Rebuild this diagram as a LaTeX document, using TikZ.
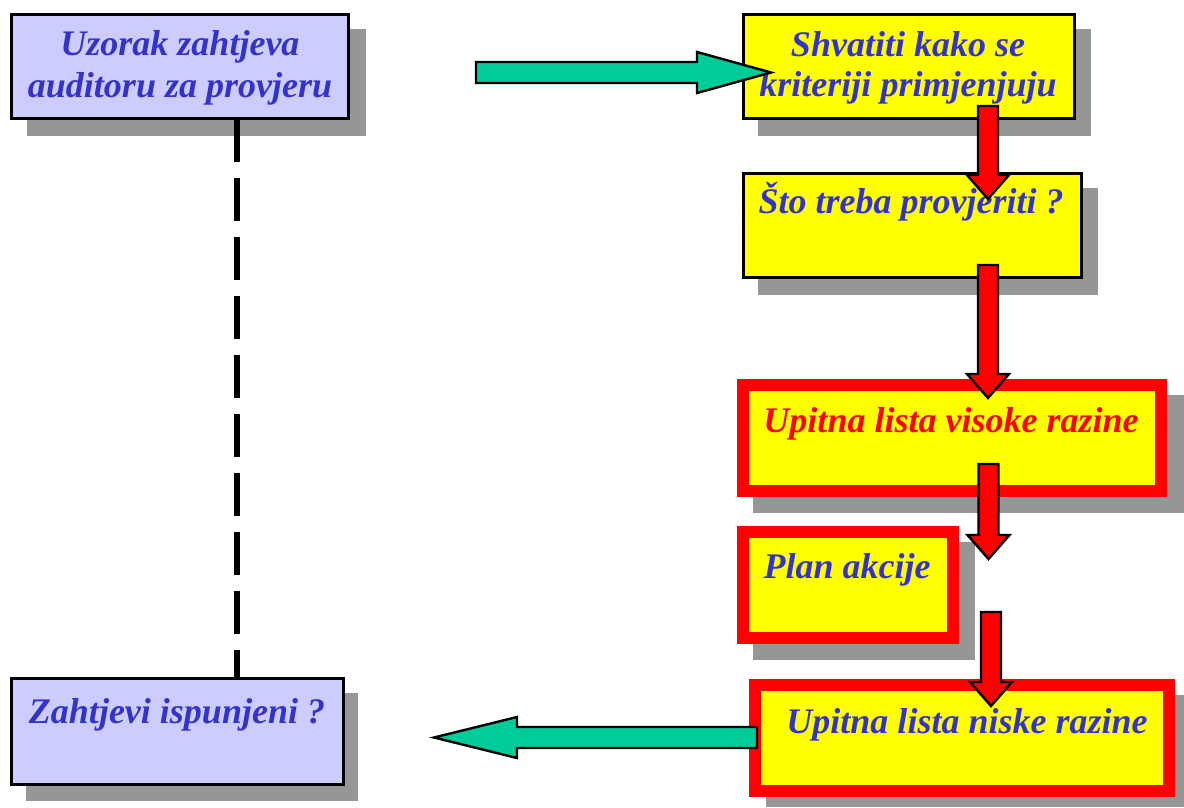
\documentclass[tikz,border=0pt]{standalone}
\usepackage{fontspec}
\setmainfont{Liberation Serif}
\usetikzlibrary{calc}
\definecolor{txtblue}{HTML}{3333CC}
\definecolor{lav}{HTML}{CCCCFF}
\definecolor{yel}{HTML}{FFFF00}
\definecolor{redc}{HTML}{FF0000}
\definecolor{grn}{HTML}{00CC99}
\definecolor{shd}{HTML}{969696}
\tikzset{
  plainbox/.style={draw=black, line width=2.6pt, anchor=north west, inner sep=0pt, outer sep=0pt},
  redbox/.style={draw=redc, fill=yel, line width=12pt, anchor=north west, inner sep=0pt, outer sep=0pt},
  shadow/.style={fill=shd, draw=none},
  lbl/.style={font=\fontsize{36}{42}\selectfont\bfseries\itshape, text=txtblue, anchor=base, inner sep=0pt, align=center},
  redarr/.style={draw=black, fill=redc, line width=2.4pt, line join=miter},
  greenarr/.style={draw=black, fill=grn, line width=2.4pt, line join=miter},
  dashline/.style={draw=black, line width=5.5pt, dash pattern=on 43pt off 16pt}
}
\newcommand\vblock[2]{\draw[redarr] let \p1=(#1), \p2=(#2) in
  (\x1-10pt,\y1) -- (\x1+10pt,\y1) -- (\x1+10pt,\y2+24pt) -- (\x1+21pt,\y2+24pt) --
  (\x1,\y2) -- (\x1-21pt,\y2+24pt) -- (\x1-10pt,\y2+24pt) -- cycle;}
\newcommand\hblock[3]{\draw[greenarr] let \p1=(#1), \p2=(#2), \n1={#3} in
  (\x1,\y1+10.5pt) -- ({\x2-\n1},\y1+10.5pt) -- ({\x2-\n1},\y1+20.5pt) -- (\x2,\y1) --
  ({\x2-\n1},\y1-20.5pt) -- ({\x2-\n1},\y1-10.5pt) -- (\x1,\y1-10.5pt) -- cycle;}
\begin{document}
\begin{tikzpicture}[x=1pt,y=-1pt]
\useasboundingbox (0,0) rectangle (1184,807);
% shadows
\fill[shadow] (27,29) rectangle (366,136);
\fill[shadow] (758,29) rectangle (1091,136);
\fill[shadow] (758,188) rectangle (1098,295);
\fill[shadow] (753,395) rectangle (1184,513);
\fill[shadow] (753,542) rectangle (975,660);
\fill[shadow] (766,695) rectangle (1184,807);
\fill[shadow] (26,693) rectangle (358,801);
% boxes
\node[plainbox, fill=lav, minimum width=337pt, minimum height=104pt] (A) at (11.5,14.5) {};
\node[plainbox, fill=yel, minimum width=331pt, minimum height=104pt] (B) at (743.5,14.5) {};
\node[plainbox, fill=yel, minimum width=338pt, minimum height=104pt] (C) at (743.5,173.5) {};
\node[redbox, minimum width=418pt, minimum height=106pt] (D) at (743,385) {};
\node[redbox, minimum width=210pt, minimum height=106pt] (E) at (743,532) {};
\node[redbox, minimum width=414pt, minimum height=106pt] (F) at (755,685) {};
\node[plainbox, fill=lav, minimum width=332pt, minimum height=106pt] (G) at (11.5,678.5) {};
% labels
\node[lbl] (At1) at (180,55) {Uzorak zahtjeva};
\node[lbl] (At2) at (180,97) {auditoru za provjeru};
\node[lbl] (Bt1) at (908,56) {Shvatiti kako se};
\node[lbl] (Bt2) at (908,96) {kriteriji primjenjuju};
\node[lbl] (Ct) at (911,213) {Što treba provjeriti ?};
\node[lbl, text=redc] (Dt) at (951,432) {Upitna lista visoke razine};
\node[lbl] (Et) at (847,578) {Plan akcije};
\node[lbl] (Ft) at (967,733) {Upitna lista niske razine};
\node[lbl] (Gt) at (177,723) {Zahtjevi ispunjeni ?};
% dashed connector
\coordinate (dx) at (237,0);
\draw[dashline] (A.south -| dx) -- (G.north -| dx);
% red arrows
\coordinate (r1a) at (988,106); \coordinate (r1b) at (988,199);
\coordinate (r2a) at (988,265); \coordinate (r2b) at (988,398);
\coordinate (r3a) at (988.5,464); \coordinate (r3b) at (988.5,559);
\coordinate (r4a) at (991,612); \coordinate (r4b) at (991,706);
\vblock{r1a}{r1b}
\vblock{r2a}{r2b}
\vblock{r3a}{r3b}
\vblock{r4a}{r4b}
% green arrows
\coordinate (g1a) at (476,72.5); \coordinate (g1b) at (771,72.5);
\coordinate (g2a) at (757,737.5); \coordinate (g2b) at (434,737.5);
\hblock{g1a}{g1b}{74pt}
\hblock{g2a}{g2b}{-83pt}
\end{tikzpicture}
\end{document}
